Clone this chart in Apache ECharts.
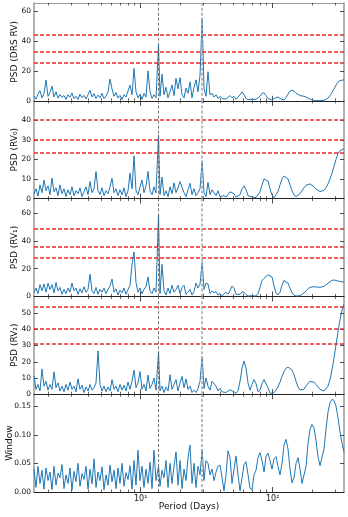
<!DOCTYPE html>
<html><head><meta charset="utf-8">
<script src="https://cdn.jsdelivr.net/npm/echarts@6/dist/echarts.min.js"></script>
<style>html,body{margin:0;padding:0;background:#fff}#c{width:348px;height:517px}</style>
</head><body><div id="c"></div>
<script>
const periods = [
1.555,1.610,1.667,1.727,1.788,1.851,1.917,1.986,2.056,2.129,
2.204,2.283,2.363,2.447,2.534,2.624,2.717,2.814,2.913,3.017,
3.124,3.235,3.350,3.469,3.592,3.720,3.852,3.989,4.130,4.277,
4.429,4.586,4.749,4.918,5.092,5.273,5.461,5.654,5.855,6.063,
6.279,6.501,6.730,6.970,7.217,7.474,7.739,8.014,8.298,8.594,
8.897,9.213,9.539,9.879,10.23,10.59,10.97,11.36,11.76,12.18,
12.61,13.06,13.65,14.00,14.50,15.02,15.55,16.10,16.67,17.27,
17.88,18.51,19.17,19.86,20.56,21.29,22.04,22.83,23.63,24.47,
25.34,26.24,27.17,28.14,29.20,30.17,31.24,32.35,33.50,34.69,
35.92,37.20,38.52,39.89,41.30,42.76,44.29,45.86,47.49,49.17,
50.92,52.73,54.60,56.54,58.55,60.63,62.78,65.01,67.31,69.70,
72.17,74.74,77.39,80.14,82.98,85.93,88.97,92.13,95.39,98.77,
102.3,105.9,109.6,113.6,117.6,121.8,126.1,130.6,135.2,140.0,
145.0,150.2,155.5,161.0,166.7,172.6,178.8,185.1,191.7,198.5,
205.5,212.9,220.3,228.2,236.3,244.7,253.3,262.4,271.7,281.3,
291.3,301.7,312.3,323.5,334.9,346.7];

const psdDrs = [
3.2,1.1,4.5,6.7,2.0,4.8,13.8,3.0,5.5,9.8,
2.5,6.0,1.8,4.2,2.2,3.5,1.0,4.0,2.4,5.2,
1.5,3.0,0.8,4.5,2.0,3.6,1.2,4.0,7.0,2.5,
4.8,1.5,3.8,2.0,5.0,1.4,3.2,6.0,14.5,8.0,
3.0,5.5,1.8,3.6,1.0,4.0,2.5,6.5,10.5,4.0,
21.6,6.0,2.0,4.5,1.0,5.0,2.5,20.0,6.0,1.5,
4.0,2.0,37.7,3.0,17.8,4.0,9.0,2.0,6.0,10.5,
3.5,15.0,8.0,15.5,4.0,2.0,8.5,5.0,12.7,2.0,
9.0,14.0,6.0,17.0,55.0,8.0,3.0,19.4,4.0,5.0,
2.5,4.0,1.5,3.0,1.5,2.0,1.2,2.0,3.5,2.0,
3.0,1.0,2.0,4.0,6.0,4.0,1.5,0.8,1.5,1.0,
2.0,1.0,1.5,3.0,5.0,5.3,3.5,1.5,0.5,0.5,
1.5,2.5,2.5,1.5,0.5,0.5,2.0,4.5,6.5,7.1,
6.5,5.0,4.0,3.5,3.5,3.0,2.5,2.0,1.2,0.5,
0.2,0.1,0.1,0.1,0.2,0.3,0.8,1.8,3.5,5.5,
8.0,10.5,12.5,13.5,13.8,14.0];

const psdRv0 = [
2.5,5.0,1.2,7.0,3.0,9.5,4.0,6.5,2.0,10.4,
3.5,5.5,1.5,7.0,2.5,5.0,1.0,4.5,2.0,6.0,
1.5,4.0,2.5,5.5,1.0,3.5,6.0,2.0,8.7,3.0,
5.0,13.8,4.0,2.0,5.5,1.5,4.0,2.5,6.0,10.4,
3.0,5.0,1.5,4.5,2.0,5.5,1.0,4.0,13.0,5.0,
21.8,4.0,2.0,6.0,9.5,3.0,6.5,13.8,4.0,2.0,
6.0,3.0,32.5,2.0,11.0,1.5,4.0,1.0,6.0,2.5,
8.0,3.0,5.5,8.7,9.5,3.0,1.0,4.5,7.8,2.0,
5.0,1.5,3.0,5.0,18.9,3.0,1.0,8.3,2.0,4.5,
4.0,1.5,4.0,1.0,0.5,1.5,0.8,2.0,3.5,4.4,
2.5,0.8,0.5,2.0,5.0,6.5,4.5,1.5,0.5,0.8,
1.0,0.5,1.0,3.5,7.0,10.0,10.9,9.0,5.0,1.8,
0.5,1.0,3.5,7.0,10.0,11.5,11.6,10.0,7.0,4.0,
1.8,1.0,1.2,2.5,4.0,5.5,6.8,7.5,7.5,7.0,
6.0,4.8,4.0,3.6,3.6,4.2,5.5,7.5,10.0,13.0,
16.5,20.0,23.0,24.5,25.2,25.5];

const psdRv1 = [
3.0,6.0,2.0,8.5,4.0,9.0,3.0,9.5,5.0,8.5,
2.5,10.0,4.0,6.5,1.5,5.0,2.0,6.0,3.0,9.6,
4.0,6.0,1.5,5.5,2.5,7.0,3.0,5.0,16.0,4.0,
2.0,6.5,1.5,5.0,3.0,6.0,2.0,5.0,7.5,12.5,
3.0,5.5,1.0,4.5,2.5,6.0,1.5,5.0,8.0,23.0,
32.0,10.0,3.0,6.0,2.0,5.0,7.0,14.0,4.0,2.0,
6.0,3.0,59.2,2.0,23.0,4.0,1.0,6.0,2.0,8.0,
3.0,5.0,8.0,2.0,6.5,8.0,1.5,3.0,5.0,1.0,
3.5,9.6,6.0,9.0,24.5,5.0,9.6,9.0,2.0,4.0,
2.5,3.5,1.0,2.0,0.5,1.5,3.0,1.5,4.0,7.5,
6.0,1.5,0.5,1.5,3.2,3.0,1.2,0.3,0.3,0.5,
0.4,0.3,2.0,6.5,11.5,13.0,13.5,15.5,16.8,14.0,
7.5,2.5,1.0,3.0,8.0,11.5,11.8,9.5,6.0,2.5,
0.8,0.3,0.3,0.5,1.2,2.5,4.0,5.5,6.5,7.2,
7.0,6.8,6.6,6.5,6.6,7.2,8.2,9.5,10.8,11.6,
11.8,11.5,11.0,10.7,10.5,10.4];

const psdRv2 = [
11.4,3.0,6.0,2.0,15.5,5.0,8.0,2.5,6.0,3.0,
13.8,4.0,7.0,2.0,5.0,1.5,6.0,2.5,7.5,3.0,
5.0,1.5,9.5,3.0,5.5,1.0,4.5,2.0,6.0,2.5,
4.0,7.0,26.7,6.0,2.0,5.0,1.5,4.5,2.0,9.0,
3.0,5.0,1.5,6.0,2.5,5.5,2.0,7.5,3.0,8.0,
14.9,4.0,7.0,14.0,3.0,6.0,2.0,11.8,3.5,6.0,
10.0,2.5,26.0,2.0,5.0,1.0,4.5,2.0,12.0,3.0,
6.0,9.0,2.0,7.0,11.0,4.0,9.5,3.0,5.0,1.0,
2.5,1.0,3.5,8.0,23.0,3.5,10.0,5.0,2.5,8.0,
8.0,5.0,2.0,3.5,1.5,0.5,1.0,2.0,2.8,3.0,
1.5,0.5,2.0,8.0,16.0,20.5,16.0,7.0,2.5,6.0,
9.0,6.5,1.5,2.5,6.5,9.0,8.5,4.0,0.5,0.2,
1.0,2.5,4.5,7.5,11.0,14.0,16.0,16.7,16.5,15.0,
12.0,8.0,4.5,2.5,2.3,3.0,5.0,6.8,7.8,8.0,
7.5,6.0,4.5,3.0,2.2,2.0,2.5,5.0,9.0,15.0,
22.5,30.5,38.5,46.0,52.0,55.6];

const windowFn = [
0.040,0.008,0.045,0.015,0.038,0.005,0.042,0.020,0.035,0.004,
0.045,0.012,0.033,0.025,0.048,0.006,0.030,0.015,0.042,0.003,
0.036,0.018,0.050,0.010,0.032,0.022,0.045,0.005,0.040,0.014,
0.058,0.008,0.035,0.020,0.044,0.004,0.030,0.012,0.047,0.018,
0.038,0.006,0.042,0.015,0.050,0.010,0.034,0.022,0.046,0.005,
0.055,0.012,0.073,0.020,0.045,0.008,0.040,0.015,0.052,0.006,
0.073,0.020,0.045,0.010,0.038,0.025,0.055,0.008,0.050,0.015,
0.045,0.070,0.012,0.055,0.006,0.040,0.020,0.060,0.082,0.015,
0.050,0.008,0.045,0.030,0.074,0.020,0.055,0.050,0.030,0.040,
0.020,0.035,0.045,0.047,0.025,0.002,0.030,0.072,0.060,0.015,
0.040,0.063,0.030,0.002,0.025,0.048,0.053,0.030,0.006,0.004,
0.030,0.038,0.060,0.069,0.055,0.035,0.062,0.068,0.055,0.040,
0.058,0.062,0.045,0.030,0.050,0.082,0.092,0.075,0.040,0.016,
0.025,0.050,0.060,0.040,0.015,0.015,0.045,0.085,0.110,0.118,
0.112,0.090,0.062,0.046,0.048,0.075,0.110,0.140,0.156,0.162,
0.160,0.150,0.130,0.105,0.085,0.070];

const panelValues = [psdDrs, psdRv0, psdRv1, psdRv2, windowFn];
const yLabels = ['PSD (DRS RV)', 'PSD (RV\u2080)', 'PSD (RV\u2081)', 'PSD (RV\u2082)', 'Window'];
const yMax = [65.3, 49.9, 70.4, 60.3, 0.171];
const yTicks = [[0,20,40,60],[0,10,20,30,40],[0,20,40,60],[0,10,20,30,40,50],[0,0.05,0.10,0.15]];
const fapLevels = [[44.4,33.0,25.4],[40.3,29.9,23.2],[48.5,36.0,27.6],[54.1,40.5,31.0],[]];
const markPeriods = [13.65, 29.2];
const xMajor = [10, 100];
const xMinor = [2,3,4,5,6,7,8,9,20,30,40,50,60,70,80,90,200,300];
const xMin = 1.555, xMax = 346.7;
const xTitle = 'Period (Days)';

const FONT = 'DejaVu Sans';
const chart = echarts.init(document.getElementById('c'), null, {renderer: 'canvas'});
const grids = [], xAxes = [], yAxes = [], series = [];
const PANEL_H = 97.8;
const vStyles = [
  {color: '#555', opacity: 1, width: 0.8, type: [3, 2]},
  {color: '#aaa', opacity: 1, width: 1.6, type: [3, 2]}
];
for (let k = 0; k < 5; k++) {
  grids.push({left: 34, right: 4, top: 3 + PANEL_H * k, height: PANEL_H, containLabel: false, outerBoundsMode: 'none'});
  const last = k === 4;
  const base = {type: 'log', logBase: 10, gridIndex: k, min: xMin, max: xMax, splitLine: {show: false}};
  xAxes.push(Object.assign({}, base, {
    position: 'bottom',
    axisLine: {show: true, onZero: false, lineStyle: {color: '#222', width: 1}},
    axisTick: {show: true, inside: true, length: 5, customValues: xMajor, lineStyle: {color: '#222', width: 0.8}},
    axisLabel: {show: last, customValues: xMajor, margin: 3, fontFamily: FONT, fontSize: 8, color: '#111',
      formatter: v => '10' + (Math.round(Math.log10(v)) === 1 ? '\u00b9' : '\u00b2')},
    name: last ? xTitle : '', nameLocation: 'middle', nameGap: 10, nameMoveOverlap: false,
    nameTextStyle: {fontFamily: FONT, fontSize: 9, color: '#111'}
  }));
  xAxes.push(Object.assign({}, base, {
    position: 'bottom', axisLine: {show: false, onZero: false},
    axisTick: {show: true, inside: true, length: 2.5, customValues: xMinor, lineStyle: {color: '#222', width: 0.7}},
    axisLabel: {show: false}
  }));
  xAxes.push(Object.assign({}, base, {
    position: 'top',
    axisLine: {show: k === 0, onZero: false, lineStyle: {color: '#999', width: 1}},
    axisTick: {show: true, inside: true, length: 5, customValues: xMajor, lineStyle: {color: '#222', width: 0.8}},
    axisLabel: {show: false}
  }));
  xAxes.push(Object.assign({}, base, {
    position: 'top', axisLine: {show: false, onZero: false},
    axisTick: {show: true, inside: true, length: 2.5, customValues: xMinor, lineStyle: {color: '#222', width: 0.7}},
    axisLabel: {show: false}
  }));
  yAxes.push({
    type: 'value', gridIndex: k, position: 'left', min: 0, max: yMax[k], splitLine: {show: false},
    axisLine: {show: true, onZero: false, lineStyle: {color: '#999', width: 1.5}},
    axisTick: {show: true, inside: true, length: 4, customValues: yTicks[k], lineStyle: {color: '#222', width: 0.8}},
    axisLabel: {show: true, customValues: yTicks[k], margin: 3, fontFamily: FONT, fontSize: 7.5, color: '#111',
      formatter: v => last ? v.toFixed(2) : String(v)},
    name: yLabels[k], nameLocation: 'middle', nameGap: last ? 20 : 14.5, nameMoveOverlap: false,
    nameTextStyle: {fontFamily: FONT, fontSize: 9, color: '#111'}
  });
  yAxes.push({
    type: 'value', gridIndex: k, position: 'right', min: 0, max: yMax[k], splitLine: {show: false},
    axisLine: {show: true, onZero: false, lineStyle: {color: '#999', width: 1.5}},
    axisTick: {show: true, inside: true, length: 4, customValues: yTicks[k], lineStyle: {color: '#222', width: 0.8}},
    axisLabel: {show: false}
  });
  const vals = panelValues[k];
  series.push({
    type: 'line', xAxisIndex: 4 * k, yAxisIndex: 2 * k,
    data: periods.map((p, i) => [p, vals[i]]),
    showSymbol: false, symbol: 'none', smooth: false,
    lineStyle: {color: '#1f77b4', width: 1}, itemStyle: {color: '#1f77b4'},
    markLine: fapLevels[k].length ? {
      silent: true, symbol: ['none', 'none'], label: {show: false}, animation: false,
      lineStyle: {color: '#f02828', opacity: 1, width: 1.5, type: [4, 2]},
      data: fapLevels[k].map(v => ({yAxis: v}))
    } : undefined,
    animation: false, z: 2
  });
  markPeriods.forEach((mp, j) => {
    series.push({
      type: 'line', xAxisIndex: 4 * k, yAxisIndex: 2 * k, data: [], symbol: 'none',
      markLine: {silent: true, symbol: ['none', 'none'], label: {show: false}, animation: false,
        lineStyle: vStyles[j], data: [{xAxis: mp}]},
      animation: false, z: 3
    });
  });
}
chart.setOption({animation: false, grid: grids, xAxis: xAxes, yAxis: yAxes, series: series});
</script></body></html>
